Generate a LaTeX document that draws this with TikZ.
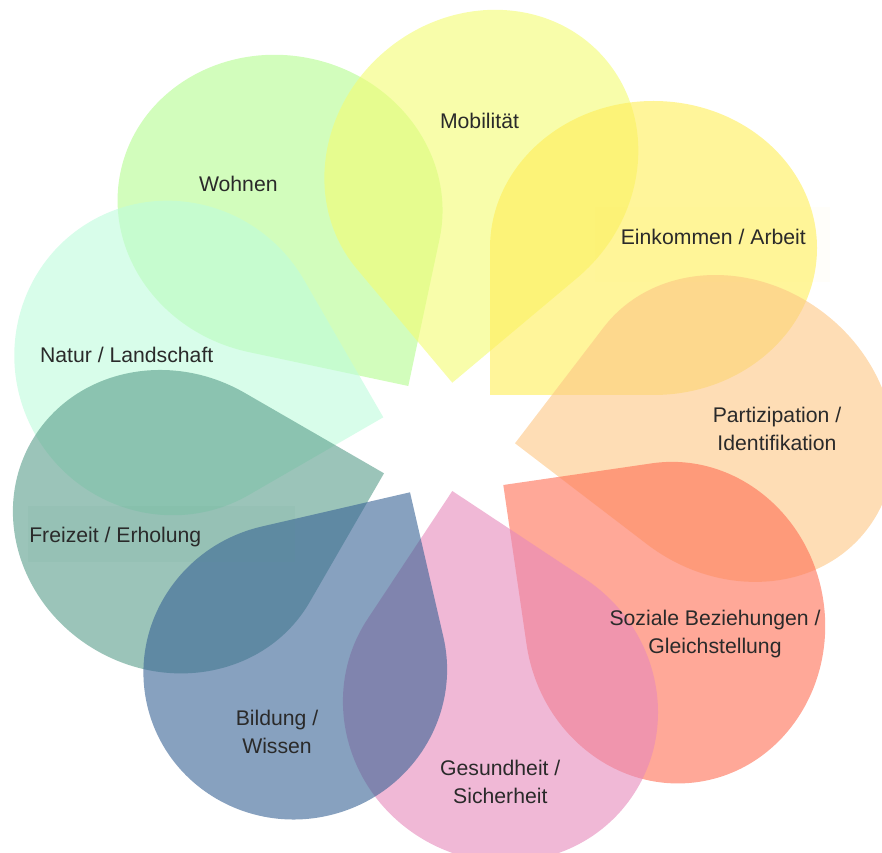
\documentclass[tikz,border=0pt]{standalone}
\usepackage{fontspec}
\setmainfont{Liberation Sans}

\definecolor{wohnencol}{HTML}{B4FC8F}
\definecolor{mobilcol}{HTML}{F3FC71}
\definecolor{einkommencol}{HTML}{FFEE57}
\definecolor{partizipcol}{HTML}{FDC684}
\definecolor{sozialcol}{HTML}{FF6E53}
\definecolor{gesundcol}{HTML}{E689BB}
\definecolor{naturcol}{HTML}{BEFCDC}
\definecolor{freizeitcol}{HTML}{589D8A}
\definecolor{bildungcol}{HTML}{376294}
\definecolor{textgray}{HTML}{2A2A2A}

\tikzset{
    petal/.style={fill opacity=0.6},
    textbox/.style={fill opacity=0.08},
    petaltext/.style={text=textgray, align=center,
        font=\fontsize{10.6}{14}\selectfont}
}

\begin{document}
\begin{tikzpicture}[x=0.5pt, y=0.5pt]
    \useasboundingbox (0,0) rectangle (882,852);
    \clip (0,0) rectangle (882,852);

    % Petals: tip x / tip y / rotation / half width / half height / colour
    \foreach \tx/\ty/\rot/\a/\b/\col in {
        408.3/466/78/150/163/wohnencol,
        452.3/469.3/40/162.6/148.6/mobilcol,
        490/457/0/163.5/147/einkommencol,
        515/408.7/322.6/166/145.6/partizipcol,
        503.3/367/278.3/161/150/sozialcol,
        452.3/361/236.5/153.4/159.3/gesundcol,
        383.3/434.7/120/158/155/naturcol,
        384/378.7/150/160.6/148.6/freizeitcol,
        410/359.7/193/152/148.3/bildungcol} {
        \fill[petal, fill=\col, shift={(\tx,\ty)}, rotate=\rot]
            (0,0) -- (\a,0)
            arc[start angle=-90, end angle=180, x radius=\a, y radius=\b]
            -- cycle;
    }

    % Faint text boxes
    \fill[textbox, fill=einkommencol, fill opacity=0.03] (595,570.3) rectangle (830,645.3);
    \fill[textbox, fill=freizeitcol] (28.3,290.3) rectangle (295,346);

    % Labels
    \node[petaltext] (wohnen) at (238.3,668.2) {Wohnen};
    \node[petaltext] (mobilitaet) at (479.5,731.5) {Mobilität};
    \node[petaltext] (einkommen) at (713.3,615.5) {Einkommen / Arbeit};
    \node[petaltext] (partizipation) at (777,423.5) {Partizipation /\\Identifikation};
    \node[petaltext] (soziales) at (715,218.1) {Soziale Beziehungen /\\Gleichstellung};
    \node[petaltext] (gesundheit) at (500.3,69.7) {Gesundheit /\\Sicherheit};
    \node[petaltext] (bildung) at (277,119.7) {Bildung /\\Wissen};
    \node[petaltext] (freizeit) at (115.3,315.4) {Freizeit / Erholung};
    \node[petaltext] (natur) at (126.7,496.7) {Natur / Landschaft};
\end{tikzpicture}
\end{document}
